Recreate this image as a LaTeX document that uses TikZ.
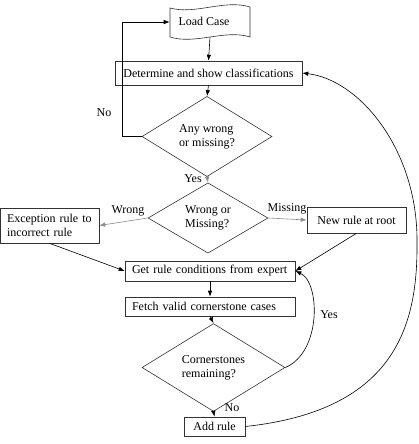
\documentclass[tikz,border=0pt]{standalone}
\usepackage{fontspec}
\setmainfont{Liberation Serif}
\usetikzlibrary{shapes.geometric,arrows.meta}
\begin{document}
\begin{tikzpicture}[x=1pt,y=-1pt,
  font=\fontsize{12}{14}\selectfont,
  every path/.style={line width=0.6pt},
  arr/.style={-{Latex[length=6pt,width=4.5pt]}},
  garr/.style={-{Latex[length=6pt,width=4.5pt]},draw=black!45},
  box/.style={draw=black!80,rectangle,inner sep=0pt,align=center},
  lbox/.style={draw=black!80,rectangle,inner ysep=0pt,inner xsep=7pt,align=left},
  dia/.style={draw=black!80,diamond,inner sep=0pt,align=left},
  lbl/.style={inner sep=0pt}]
\useasboundingbox (0,0) rectangle (419,444);
% Load Case tape
\draw[draw=black!80] (170,8) .. controls (195,15) and (225,-1) .. (250,7)
  -- (250,37) .. controls (225,29) and (195,45) .. (170,37) -- cycle;
\node[minimum width=80,minimum height=30,inner sep=0pt] (lc) at (210,22) {};
\node[lbl] at (204,21) {Load Case};
\node[box,minimum width=187,minimum height=24] (det) at (208.5,73) {Determine and show classifications};
\node[dia,minimum width=130,minimum height=61] (d1) at (207,136.5) {Any wrong\\or missing?};
\node[dia,minimum width=120,minimum height=62] (d2) at (208,218) {Wrong or\\Missing?};
\node[lbox,minimum height=35,text width=85] (exc) at (49.5,225.5) {\mbox{Exception rule to}\\incorrect rule};
\node[box,minimum width=99,minimum height=26] (newr) at (356.5,220) {New rule at root};
\node[lbox,minimum height=20,text width=156] (get) at (210,271) {\mbox{Get rule conditions from expert}};
\node[lbox,minimum height=19,text width=156] (fetch) at (210,306.5) {\mbox{Fetch valid cornerstone cases}};
\node[dia,minimum width=143,minimum height=61] (d3) at (213.5,367.5) {Cornerstones\\remaining?};
\node[box,minimum width=61,minimum height=19] (add) at (214.5,426.5) {Add rule};
% labels
\node[lbl] at (104,113) {No};
\node[lbl] at (193,179) {Yes};
\node[lbl] at (128,211) {Wrong};
\node[lbl] at (287,209) {Missing};
\node[lbl] at (329,315) {Yes};
\node[lbl] at (232,408) {No};
% connectors
\draw[arr] (lc.south) -- (det.north);
\draw[arr] (det.south) -- (d1.north);
\draw[arr] (d1.west) -- ++(-19,0) |- (lc.west);
\draw[garr] (d1.south) -- (d2.north);
\draw[garr] (d2.west) -- (exc.east);
\draw[garr] (d2.east) -- (newr.west);
\draw[arr] (exc.south) -- (get.west);
\draw[arr] (newr.south) -- (get.east);
\draw[arr] (get.south) -- (fetch.north);
\draw[arr] (fetch.south) -- (d3.north);
\draw[arr] (d3.south) -- (add.north);
\draw[arr] (d3.east) .. controls (322,352) and (320,282) .. (get.east);
\draw[arr] (add.east) .. controls (400,410) and (418,320) .. (417,240)
  .. controls (417,150) and (360,80) .. (det.east);
\end{tikzpicture}
\end{document}
